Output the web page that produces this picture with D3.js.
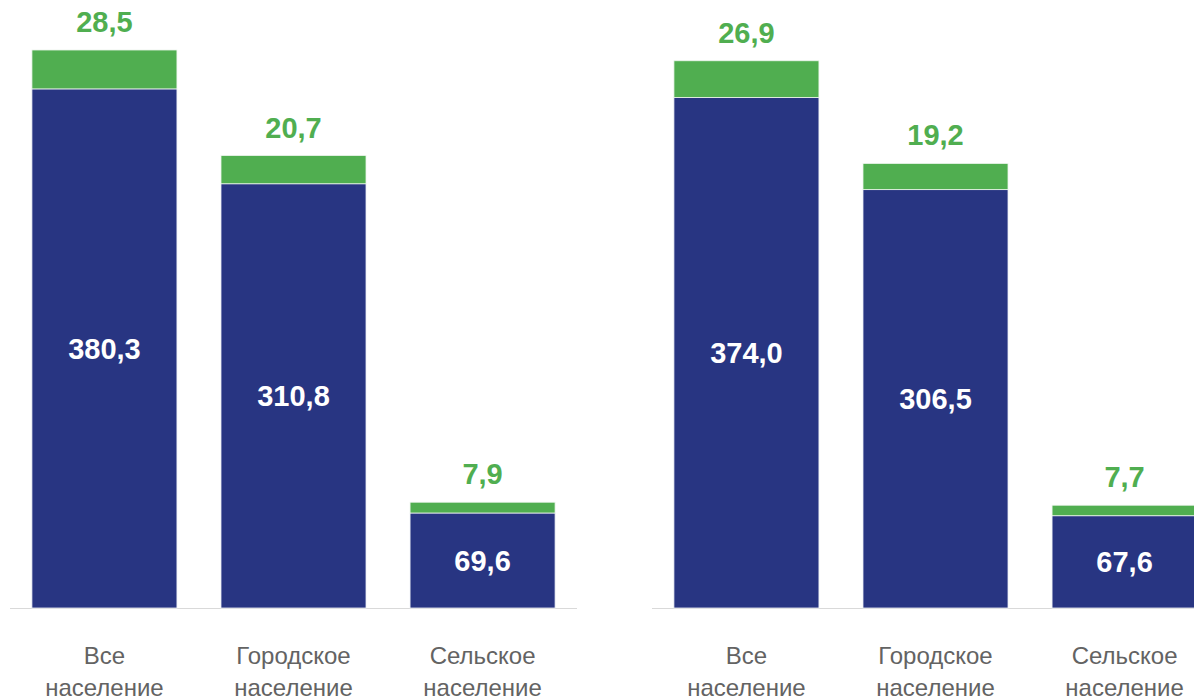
<!DOCTYPE html>
<html lang="ru">
  <head>
    <meta charset="utf-8">
    <title>Население</title>
    <style>
      body { margin: 0; background: #fff; }
      svg text { font-family: "Liberation Sans", Arial, sans-serif; }
    </style>
  </head>
  <body>
    <div id="chart"></div>
    <script src="https://d3js.org/d3.v7.min.js" charset="utf-8"></script>
    <script>
      // data
      let categories = [['Все', 'население'], ['Городское', 'население'], ['Сельское', 'население']];
      let leftBlue = [380.3, 310.8, 69.6];
      let leftGreen = [28.5, 20.7, 7.9];
      let rightBlue = [374.0, 306.5, 67.6];
      let rightGreen = [26.9, 19.2, 7.7];

      let width = 1194, height = 698;
      let baseY = 608;
      let blue = '#283582', green = '#50ae50';
      let fmt = v => d3.format('.1f')(v).replace('.', ',');

      let svg = d3.select('#chart').append('svg')
        .attr('width', width).attr('height', height);

      let y = d3.scaleLinear().domain([0, 400]).range([baseY, 62]);

      function drawPanel(x0, x1, blueVals, greenVals) {
        let x = d3.scaleBand()
          .domain(d3.range(categories.length))
          .range([x0, x1])
          .paddingInner(0.233)
          .paddingOuter(0.116);

        let g = svg.append('g');

        g.append('line')
          .attr('x1', x0).attr('x2', x1)
          .attr('y1', baseY + 0.5).attr('y2', baseY + 0.5)
          .attr('stroke', '#d9d9d9').attr('stroke-width', 1.2);

        let rows = blueVals.map((b, i) => ({ i: i, b: b, g: greenVals[i] }));

        let bar = g.selectAll('.bar').data(rows).enter().append('g');

        bar.append('rect')
          .attr('x', d => x(d.i))
          .attr('width', x.bandwidth())
          .attr('y', d => y(d.b))
          .attr('height', d => baseY - y(d.b))
          .attr('fill', blue)
          .attr('stroke', '#eef0f6').attr('stroke-width', 0.8);

        bar.append('rect')
          .attr('x', d => x(d.i))
          .attr('width', x.bandwidth())
          .attr('y', d => y(d.b + d.g))
          .attr('height', d => y(d.b) - y(d.b + d.g))
          .attr('fill', green)
          .attr('stroke', '#eef6ee').attr('stroke-width', 0.8);

        // value labels
        bar.append('text')
          .attr('x', d => x(d.i) + x.bandwidth() / 2)
          .attr('y', d => (y(d.b) + baseY) / 2)
          .attr('dy', '0.36em')
          .attr('text-anchor', 'middle')
          .attr('fill', '#fff')
          .attr('font-weight', 'bold')
          .attr('font-size', 29)
          .text(d => fmt(d.b));

        bar.append('text')
          .attr('x', d => x(d.i) + x.bandwidth() / 2)
          .attr('y', d => y(d.b + d.g) - 18)
          .attr('text-anchor', 'middle')
          .attr('fill', green)
          .attr('font-weight', 'bold')
          .attr('font-size', 29)
          .text(d => fmt(d.g));

        // category labels
        let lab = g.selectAll('.cat').data(categories).enter().append('text')
          .attr('text-anchor', 'middle')
          .attr('fill', '#636363')
          .attr('font-size', 24)
          .attr('transform', (d, i) => 'translate(' + (x(i) + x.bandwidth() / 2) + ',664)');
        lab.append('tspan').attr('x', 0).attr('y', 0).text(d => d[0]);
        lab.append('tspan').attr('x', 0).attr('y', 32).text(d => d[1]);
      }

      drawPanel(10, 577, leftBlue, leftGreen);
      drawPanel(652, 1219, rightBlue, rightGreen);
    </script>
  </body>
</html>
